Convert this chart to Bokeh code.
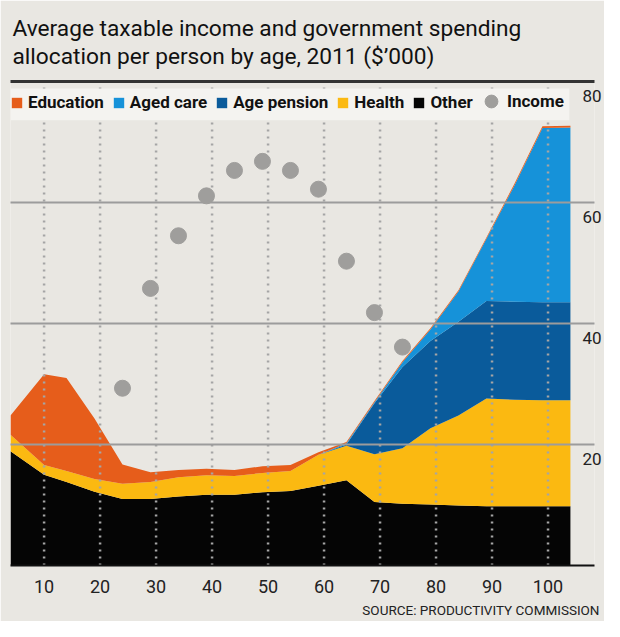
from bokeh.plotting import figure
from bokeh.models import (ColumnDataSource, Range1d, LinearAxis, FixedTicker,
                          Legend, LegendItem, Title, BoxAnnotation)
from bokeh.embed import file_html
from bokeh.resources import INLINE

# age (years) at each point of the areas
ages = [4, 10, 14, 19, 24, 29, 34, 39, 44, 49, 54, 59, 64, 69, 74, 79, 84, 89, 94, 99, 104]
# spending per person, $'000
other = [18.9, 15.0, 13.8, 12.2, 11.0, 11.0, 11.4, 11.7, 11.7, 12.1, 12.3, 13.2, 14.1,
         10.5, 10.2, 10.1, 9.9, 9.8, 9.8, 9.8, 9.8]
health = [2.7, 1.6, 1.8, 2.1, 2.5, 2.8, 3.2, 3.2, 3.1, 3.2, 3.3, 5.1, 5.7,
          7.9, 9.2, 12.6, 14.9, 17.8, 17.6, 17.5, 17.5]
age_pension = [0, 0, 0, 0, 0, 0, 0, 0, 0, 0, 0, 0, 0.2,
               8.4, 13.4, 14.4, 15.5, 16.1, 16.2, 16.2, 16.2]
aged_care = [0, 0, 0, 0, 0, 0, 0, 0, 0, 0, 0, 0, 0.2,
             0.2, 0.8, 1.9, 5.0, 10.3, 19.2, 28.8, 28.9]
education = [3.2, 15.0, 15.4, 10.0, 3.2, 1.6, 1.2, 1.1, 1.0, 1.1, 1.0, 0.4, 0.2,
             0.2, 0.2, 0.2, 0.2, 0.2, 0.3, 0.3, 0.3]

# average taxable income, $'000
income_ages = [24, 29, 34, 39, 44, 49, 54, 59, 64, 69, 74]
income = [29.3, 45.8, 54.5, 61.1, 65.3, 66.8, 65.3, 62.2, 50.3, 41.8, 36.1]

x_ticks = [10, 20, 30, 40, 50, 60, 70, 80, 90, 100]
y_ticks = [20, 40, 60, 80]

BG = "#e9e7e2"
ORANGE = "#e65d1b"
LIGHT_BLUE = "#1692d9"
DARK_BLUE = "#0a5b9b"
YELLOW = "#fbb911"
BLACK = "#050505"
GREY = "#9f9e9c"
FONT = "Roboto"

source = ColumnDataSource(data=dict(age=ages, other=other, health=health,
                                    pension=age_pension, care=aged_care,
                                    education=education))
inc_source = ColumnDataSource(data=dict(age=income_ages, income=income))

p = figure(width=604, height=621, x_range=Range1d(4, 108.3), y_range=Range1d(0, 80),
           output_backend="svg", toolbar_location=None, y_axis_location=None,
           min_border_left=10, min_border_right=1, min_border_top=81, min_border_bottom=53)
p.background_fill_color = BG
p.border_fill_color = BG
p.outline_line_color = None

stack = p.varea_stack(["other", "health", "pension", "care", "education"], x="age",
                      color=[BLACK, YELLOW, DARK_BLUE, LIGHT_BLUE, ORANGE], source=source)

# dotted verticals at the age ticks, over the areas
p.segment(x0=x_ticks, y0=[0] * len(x_ticks), x1=x_ticks, y1=[80] * len(x_ticks),
          line_color="#a5a5a5", line_width=2.5, line_dash="2 5")
p.xgrid.grid_line_color = None

dots = p.scatter("age", "income", source=inc_source, size=16, color=GREY, level="annotation")

p.ygrid.ticker = FixedTicker(ticks=[20, 40, 60])
p.ygrid.grid_line_color = "#9c9c9c"
p.ygrid.grid_line_width = 2
p.ygrid.level = "guide"

p.xaxis.ticker = FixedTicker(ticks=x_ticks)
p.xaxis.major_tick_line_color = None
p.xaxis.minor_tick_line_color = None
p.xaxis.axis_line_color = "#111111"
p.xaxis.axis_line_width = 2
p.xaxis.major_label_standoff = 8
p.xaxis.major_label_text_font = FONT
p.xaxis.major_label_text_font_size = "18px"
p.xaxis.major_label_text_color = "#222222"

# labels sit just under their grid line, so use a shifted range for them
p.extra_y_ranges = {"lbl": Range1d(2.46, 82.46)}
yax = LinearAxis(y_range_name="lbl", ticker=FixedTicker(ticks=y_ticks))
yax.axis_line_color = None
yax.major_tick_line_color = None
yax.minor_tick_line_color = None
yax.major_label_standoff = -18
yax.major_label_text_font = FONT
yax.major_label_text_font_size = "17px"
yax.major_label_text_color = "#222222"
p.add_layout(yax, "right")

top = LinearAxis(ticker=FixedTicker(ticks=[]))
top.axis_line_color = "#333333"
top.axis_line_width = 3
top.major_tick_line_color = None
top.minor_tick_line_color = None
top.major_label_text_font_size = "0px"
top.major_label_standoff = 0
p.add_layout(top, "above")

p.add_layout(Title(text="Average taxable income and government spending\n"
                        "allocation per person by age, 2011 ($’000)", text_font=FONT,
                   text_font_size="22.7px", text_font_style="normal", text_color="#111111",
                   text_line_height=1.05, align="left", offset=2, standoff=22), "above")
p.add_layout(Title(text="SOURCE: PRODUCTIVITY COMMISSION", text_font=FONT,
                   text_font_size="13.5px", text_font_style="normal", text_color="#222222",
                   align="right", offset=-5, standoff=8), "below")

# legend backing
p.add_layout(BoxAnnotation(left=4, right=103.8, bottom=73.6, top=78.85,
                           fill_color="#f4f3f0", fill_alpha=1, line_color=None,
                           level="annotation"))

legend = Legend(items=[LegendItem(label="Education", renderers=[stack[4]]),
                       LegendItem(label="Aged care", renderers=[stack[3]]),
                       LegendItem(label="Age pension", renderers=[stack[2]]),
                       LegendItem(label="Health", renderers=[stack[1]]),
                       LegendItem(label="Other", renderers=[stack[0]])],
                orientation="horizontal", location=(0, 453), padding=6, margin=0,
                spacing=8, label_standoff=5, glyph_width=13, glyph_height=13,
                background_fill_alpha=0, border_line_color=None,
                label_text_font=FONT, label_text_font_style="bold",
                label_text_font_size="17px", label_text_color="#111111")
p.add_layout(legend)

legend2 = Legend(items=[LegendItem(label="Income", renderers=[dots])],
                 orientation="horizontal", location=(465, 448), padding=0, margin=0,
                 label_standoff=0, glyph_width=32, glyph_height=32,
                 background_fill_alpha=0, border_line_color=None,
                 label_text_font=FONT, label_text_font_style="bold",
                 label_text_font_size="17px", label_text_color="#111111")
p.add_layout(legend2)

open("out.html", "w").write(file_html(p, INLINE))
